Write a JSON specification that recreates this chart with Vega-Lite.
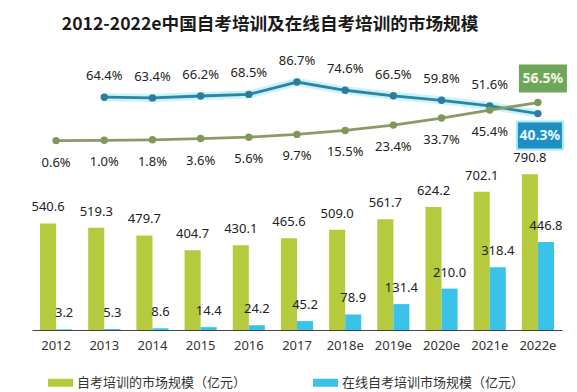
{
  "$schema": "https://vega.github.io/schema/vega-lite/v6.json",
  "width": 530,
  "height": 270,
  "autosize": {"type": "none"},
  "padding": {"left": 32, "top": 60, "right": 15, "bottom": 62},
  "background": "white",
  "config": {"view": {"stroke": null}, "font": "Noto Sans"},
  "title": {
    "text": "2012-2022e中国自考培训及在线自考培训的市场规模",
    "fontSize": 17.6,
    "fontWeight": "bold",
    "font": "Noto Sans CJK SC",
    "color": "#1a1a1a",
    "anchor": "middle",
    "frame": "group",
    "dx": -27,
    "offset": 3,
    "baseline": "bottom"
  },
  "datasets": {
    "bars": [
      {"year": "2012", "series": "自考培训的市场规模（亿元）", "value": 540.6},
      {"year": "2013", "series": "自考培训的市场规模（亿元）", "value": 519.3},
      {"year": "2014", "series": "自考培训的市场规模（亿元）", "value": 479.7},
      {"year": "2015", "series": "自考培训的市场规模（亿元）", "value": 404.7},
      {"year": "2016", "series": "自考培训的市场规模（亿元）", "value": 430.1},
      {"year": "2017", "series": "自考培训的市场规模（亿元）", "value": 465.6},
      {"year": "2018e", "series": "自考培训的市场规模（亿元）", "value": 509.0},
      {"year": "2019e", "series": "自考培训的市场规模（亿元）", "value": 561.7},
      {"year": "2020e", "series": "自考培训的市场规模（亿元）", "value": 624.2},
      {"year": "2021e", "series": "自考培训的市场规模（亿元）", "value": 702.1},
      {"year": "2022e", "series": "自考培训的市场规模（亿元）", "value": 790.8},
      {"year": "2012", "series": "在线自考培训市场规模（亿元）", "value": 3.2},
      {"year": "2013", "series": "在线自考培训市场规模（亿元）", "value": 5.3},
      {"year": "2014", "series": "在线自考培训市场规模（亿元）", "value": 8.6},
      {"year": "2015", "series": "在线自考培训市场规模（亿元）", "value": 14.4},
      {"year": "2016", "series": "在线自考培训市场规模（亿元）", "value": 24.2},
      {"year": "2017", "series": "在线自考培训市场规模（亿元）", "value": 45.2},
      {"year": "2018e", "series": "在线自考培训市场规模（亿元）", "value": 78.9},
      {"year": "2019e", "series": "在线自考培训市场规模（亿元）", "value": 131.4},
      {"year": "2020e", "series": "在线自考培训市场规模（亿元）", "value": 210.0},
      {"year": "2021e", "series": "在线自考培训市场规模（亿元）", "value": 318.4},
      {"year": "2022e", "series": "在线自考培训市场规模（亿元）", "value": 446.8}
    ],
    "lines": [
      {"year": "2012", "growth": null, "pen": 0.006},
      {"year": "2013", "growth": 0.644, "pen": 0.010},
      {"year": "2014", "growth": 0.634, "pen": 0.018},
      {"year": "2015", "growth": 0.662, "pen": 0.036},
      {"year": "2016", "growth": 0.685, "pen": 0.056},
      {"year": "2017", "growth": 0.867, "pen": 0.097},
      {"year": "2018e", "growth": 0.746, "pen": 0.155},
      {"year": "2019e", "growth": 0.665, "pen": 0.234},
      {"year": "2020e", "growth": 0.598, "pen": 0.337},
      {"year": "2021e", "growth": 0.516, "pen": 0.454},
      {"year": "2022e", "growth": 0.403, "pen": 0.565}
    ]
  },
  "encoding": {
    "x": {
      "field": "year",
      "type": "ordinal",
      "scale": {"paddingInner": 0.3333, "paddingOuter": 0.1667},
      "axis": {
        "title": null,
        "labelAngle": 0,
        "ticks": false,
        "grid": false,
        "domainColor": "#444444",
        "domainWidth": 1,
        "labelFont": "Noto Sans",
        "labelFontSize": 13,
        "labelColor": "#333333",
        "labelPadding": 9
      }
    }
  },
  "layer": [
    {
      "data": {"name": "bars"},
      "mark": {"type": "bar"},
      "encoding": {
        "xOffset": {
          "field": "series",
          "type": "nominal",
          "sort": ["自考培训的市场规模（亿元）", "在线自考培训市场规模（亿元）"],
          "scale": {"paddingInner": 0, "paddingOuter": 0}
        },
        "y": {"field": "value", "type": "quantitative", "scale": {"domain": [0, 1370]}, "axis": null},
        "color": {
          "field": "series",
          "type": "nominal",
          "sort": ["自考培训的市场规模（亿元）", "在线自考培训市场规模（亿元）"],
          "scale": {
            "domain": ["自考培训的市场规模（亿元）", "在线自考培训市场规模（亿元）"],
            "range": ["#b5ca3c", "#3bc2e8"]
          },
          "legend": {
            "title": null,
            "orient": "none",
            "legendX": 16,
            "legendY": 310,
            "direction": "horizontal",
            "symbolType": "M-1,-0.32h2v0.64h-2z",
            "symbolSize": 625,
            "symbolStrokeWidth": 0,
            "labelFont": "Noto Sans CJK SC",
            "labelFontSize": 13,
            "labelColor": "#333333",
            "labelOffset": 4,
            "columnPadding": 66,
            "labelLimit": 300
          }
        }
      }
    },
    {
      "data": {"name": "bars"},
      "mark": {"type": "text", "dy": -16, "baseline": "middle", "fontSize": 13, "color": "#222222", "font": "Noto Sans"},
      "encoding": {
        "xOffset": {
          "field": "series",
          "type": "nominal",
          "sort": ["自考培训的市场规模（亿元）", "在线自考培训市场规模（亿元）"],
          "scale": {"paddingInner": 0, "paddingOuter": 0}
        },
        "y": {"field": "value", "type": "quantitative", "scale": {"domain": [0, 1370]}, "axis": null},
        "text": {"field": "value", "type": "quantitative", "format": ".1f"}
      }
    },
    {
      "data": {"name": "lines"},
      "transform": [{"filter": "datum.growth != null"}],
      "mark": {"type": "line", "color": "#a8e8f8", "strokeWidth": 8, "opacity": 0.6},
      "encoding": {
        "y": {"field": "growth", "type": "quantitative", "scale": {"domain": [-2.779, 1.191]}, "axis": null}
      }
    },
    {
      "data": {"name": "lines"},
      "transform": [{"filter": "datum.growth != null"}],
      "mark": {"type": "line", "color": "#2b86a3", "strokeWidth": 2.8, "point": {"filled": true, "size": 55, "color": "#2a7d9b", "opacity": 1}},
      "encoding": {
        "y": {"field": "growth", "type": "quantitative", "scale": {"domain": [-2.779, 1.191]}, "axis": null}
      }
    },
    {
      "data": {"name": "lines"},
      "mark": {"type": "line", "color": "#8c9b66", "strokeWidth": 2.8, "point": {"filled": true, "size": 55, "color": "#7f985a", "opacity": 1}},
      "encoding": {
        "y": {"field": "pen", "type": "quantitative", "scale": {"domain": [-2.779, 1.191]}, "axis": null}
      }
    },
    {
      "data": {"name": "lines"},
      "transform": [{"filter": "datum.growth != null && datum.year != '2022e'"}],
      "mark": {"type": "text", "dy": -21, "baseline": "middle", "fontSize": 13, "color": "#222222", "font": "Noto Sans"},
      "encoding": {
        "y": {"field": "growth", "type": "quantitative", "scale": {"domain": [-2.779, 1.191]}, "axis": null},
        "text": {"field": "growth", "type": "quantitative", "format": ".1%"}
      }
    },
    {
      "data": {"name": "lines"},
      "transform": [{"filter": "datum.year != '2022e'"}],
      "mark": {"type": "text", "dy": 22, "baseline": "middle", "fontSize": 13, "color": "#222222", "font": "Noto Sans"},
      "encoding": {
        "y": {"field": "pen", "type": "quantitative", "scale": {"domain": [-2.779, 1.191]}, "axis": null},
        "text": {"field": "pen", "type": "quantitative", "format": ".1%"}
      }
    },
    {
      "data": {"name": "lines"},
      "transform": [{"filter": "datum.year == '2022e'"}],
      "mark": {"type": "point", "shape": "M-1,-0.583h2v1.167h-2z", "size": 2304, "filled": true, "color": "#6ea65a", "opacity": 1, "xOffset": 5, "yOffset": -24},
      "encoding": {
        "y": {"field": "pen", "type": "quantitative", "scale": {"domain": [-2.779, 1.191]}, "axis": null}
      }
    },
    {
      "data": {"name": "lines"},
      "transform": [{"filter": "datum.year == '2022e'"}],
      "mark": {"type": "text", "dx": 5, "dy": -24, "baseline": "middle", "fontSize": 14, "fontWeight": "bold", "color": "#f4f6e8", "font": "Noto Sans"},
      "encoding": {
        "y": {"field": "pen", "type": "quantitative", "scale": {"domain": [-2.779, 1.191]}, "axis": null},
        "text": {"field": "pen", "type": "quantitative", "format": ".1%"}
      }
    },
    {
      "data": {"name": "lines"},
      "transform": [{"filter": "datum.year == '2022e'"}],
      "mark": {"type": "point", "shape": "M-1,-0.609h2v1.217h-2z", "size": 2116, "filled": true, "color": "#1f8fc2", "stroke": "#a6ecfb", "strokeWidth": 2, "opacity": 1, "xOffset": 2, "yOffset": 22},
      "encoding": {
        "y": {"field": "growth", "type": "quantitative", "scale": {"domain": [-2.779, 1.191]}, "axis": null}
      }
    },
    {
      "data": {"name": "lines"},
      "transform": [{"filter": "datum.year == '2022e'"}],
      "mark": {"type": "text", "dx": 2, "dy": 22, "baseline": "middle", "fontSize": 14, "fontWeight": "bold", "color": "#e6f9ff", "font": "Noto Sans"},
      "encoding": {
        "y": {"field": "growth", "type": "quantitative", "scale": {"domain": [-2.779, 1.191]}, "axis": null},
        "text": {"field": "growth", "type": "quantitative", "format": ".1%"}
      }
    }
  ],
  "resolve": {"scale": {"y": "independent"}}
}
